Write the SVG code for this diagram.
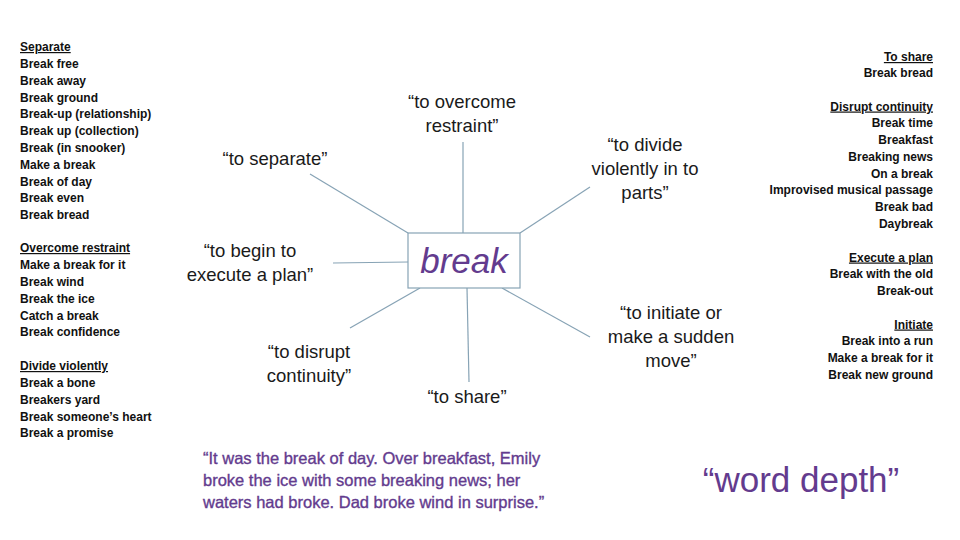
<svg xmlns="http://www.w3.org/2000/svg" width="960" height="540" viewBox="0 0 960 540">
<style>
.lst{font-family:"Liberation Sans",Arial,sans-serif;font-weight:bold;font-size:12px;fill:#111}
.hd{text-decoration:underline}
.r{text-anchor:end}
.lbl{font-family:"Liberation Sans",Arial,sans-serif;font-size:18.5px;fill:#1a1a1a;text-anchor:middle}
.con{stroke:#87a3b5;stroke-width:1.2;fill:none}
.pur{fill:#633b8e}
</style>
<rect width="960" height="540" fill="#fff"/>
<g id="connectors">
<line class="con" x1="310" y1="174" x2="408" y2="233"/>
<line class="con" x1="463" y1="142" x2="463" y2="233"/>
<line class="con" x1="333" y1="263" x2="408" y2="262"/>
<line class="con" x1="520" y1="233" x2="590" y2="187"/>
<line class="con" x1="502" y1="288" x2="590" y2="337"/>
<line class="con" x1="420" y1="288" x2="350" y2="328"/>
<line class="con" x1="467" y1="288" x2="469" y2="382"/>
</g>
<g id="center">
<rect x="408" y="233" width="112" height="55" fill="#fff" stroke="#87a3b5" stroke-width="1.2"/>
<text x="464" y="273" font-family="'Liberation Sans',Arial,sans-serif" font-style="italic" font-size="35" text-anchor="middle" class="pur">break</text>
</g>
<g id="n-separate"><text class="lbl" x="275" y="165">“to separate”</text></g>
<g id="n-overcome"><text class="lbl" x="462" y="108">“to overcome</text><text class="lbl" x="462" y="132">restraint”</text></g>
<g id="n-begin"><text class="lbl" x="250" y="257">“to begin to</text><text class="lbl" x="250" y="281">execute a plan”</text></g>
<g id="n-disrupt"><text class="lbl" x="309" y="358">“to disrupt</text><text class="lbl" x="309" y="382">continuity”</text></g>
<g id="n-share"><text class="lbl" x="467" y="403">“to share”</text></g>
<g id="n-divide"><text class="lbl" x="645" y="151">“to divide</text><text class="lbl" x="645" y="175">violently in to</text><text class="lbl" x="645" y="199">parts”</text></g>
<g id="n-initiate"><text class="lbl" x="671" y="319">“to initiate or</text><text class="lbl" x="671" y="343">make a sudden</text><text class="lbl" x="671" y="367">move”</text></g>
<g id="list-left" class="lst">
<text x="20" y="51" class="lst hd">Separate</text>
<text x="20" y="68" class="lst">Break free</text>
<text x="20" y="84.5" class="lst">Break away</text>
<text x="20" y="101.5" class="lst">Break ground</text>
<text x="20" y="118" class="lst">Break-up (relationship)</text>
<text x="20" y="135" class="lst">Break up (collection)</text>
<text x="20" y="152" class="lst">Break (in snooker)</text>
<text x="20" y="168.5" class="lst">Make a break</text>
<text x="20" y="185.5" class="lst">Break of day</text>
<text x="20" y="202" class="lst">Break even</text>
<text x="20" y="219" class="lst">Break bread</text>
<text x="20" y="252" class="lst hd">Overcome restraint</text>
<text x="20" y="269" class="lst">Make a break for it</text>
<text x="20" y="286" class="lst">Break wind</text>
<text x="20" y="302.5" class="lst">Break the ice</text>
<text x="20" y="319.5" class="lst">Catch a break</text>
<text x="20" y="336" class="lst">Break confidence</text>
<text x="20" y="370" class="lst hd">Divide violently</text>
<text x="20" y="387" class="lst">Break a bone</text>
<text x="20" y="403.5" class="lst">Breakers yard</text>
<text x="20" y="420.5" class="lst">Break someone’s heart</text>
<text x="20" y="437" class="lst">Break a promise</text>
</g>
<g id="list-right">
<text x="933" y="61" class="lst r hd">To share</text>
<text x="933" y="77" class="lst r">Break bread</text>
<text x="933" y="110.5" class="lst r hd">Disrupt continuity</text>
<text x="933" y="127" class="lst r">Break time</text>
<text x="933" y="144" class="lst r">Breakfast</text>
<text x="933" y="160.5" class="lst r">Breaking news</text>
<text x="933" y="177.5" class="lst r">On a break</text>
<text x="933" y="194" class="lst r">Improvised musical passage</text>
<text x="933" y="211" class="lst r">Break bad</text>
<text x="933" y="228" class="lst r">Daybreak</text>
<text x="933" y="261.5" class="lst r hd">Execute a plan</text>
<text x="933" y="278" class="lst r">Break with the old</text>
<text x="933" y="295" class="lst r">Break-out</text>
<text x="933" y="328.5" class="lst r hd">Initiate</text>
<text x="933" y="345" class="lst r">Break into a run</text>
<text x="933" y="362" class="lst r">Make a break for it</text>
<text x="933" y="379" class="lst r">Break new ground</text>
</g>
<g id="quote" font-family="'Liberation Sans',Arial,sans-serif" font-size="16.5" class="pur" stroke="#633b8e" stroke-width="0.35">
<text x="203" y="464">“It was the break of day. Over breakfast, Emily</text>
<text x="203" y="486">broke the ice with some breaking news; her</text>
<text x="203" y="508">waters had broke. Dad broke wind in surprise.”</text>
</g>
<g id="word-depth"><text x="801" y="492" font-family="'Liberation Sans',Arial,sans-serif" font-size="35" text-anchor="middle" class="pur">“word depth”</text></g>
</svg>
